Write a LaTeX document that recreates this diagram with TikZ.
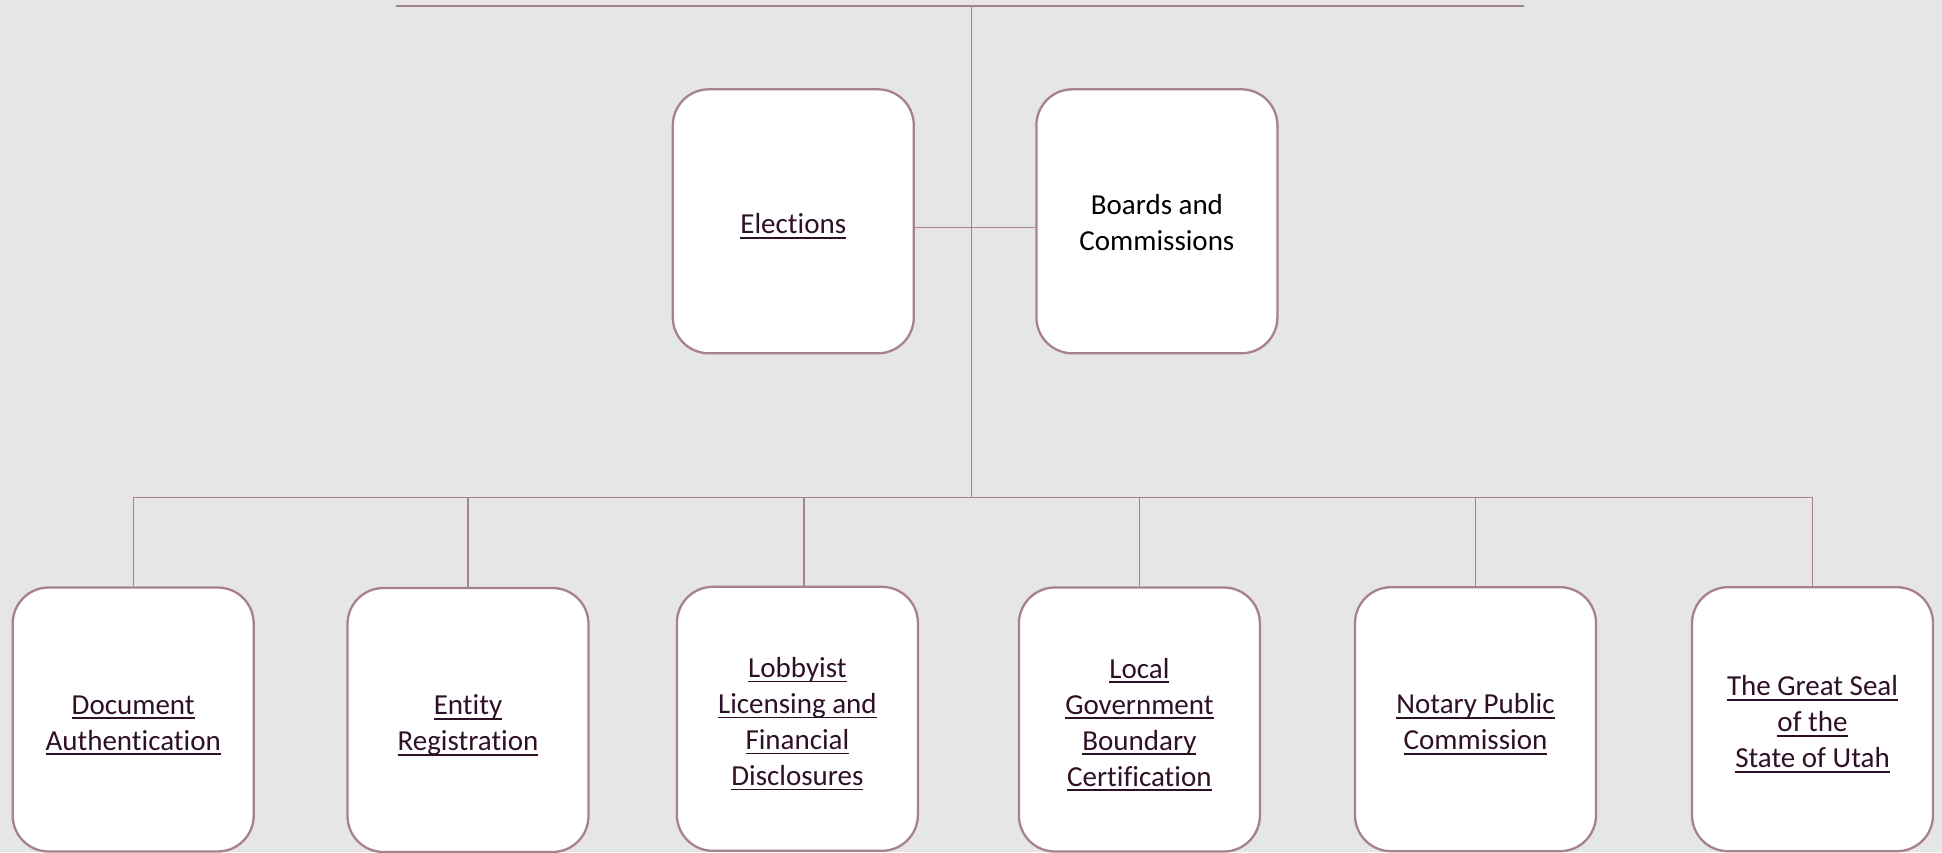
\documentclass[tikz,border=0pt]{standalone}
\usepackage{fontspec}
\setmainfont{Carlito}[Ligatures=NoCommon]
\definecolor{bg}{HTML}{E6E6E6}
\definecolor{edge}{HTML}{A6818F}
\definecolor{link}{HTML}{2F1127}
\newcommand\ulx[1]{\setbox0\hbox{#1}\rlap{\rule[-5pt]{\wd0}{1.8pt}}\box0}
\newcommand\topst{\rule{0pt}{30pt}}
\tikzset{
  card/.style={draw=edge, line width=2.3pt, fill=white, rounded corners=36pt,
    minimum width=241pt, minimum height=264pt, inner sep=0pt, align=center,
    font=\fontsize{29}{36}\selectfont, text=link},
  conn/.style={draw=edge, line width=1.4pt}
}
\begin{document}
\begin{tikzpicture}[x=1pt,y=-1pt]
\useasboundingbox (0,0) rectangle (1942,852);
\fill[bg] (0,0) rectangle (1942,852);
% top level
\coordinate (topL) at (396,5.7);
\coordinate (topR) at (1524,5.7);
\coordinate (topC) at (971.5,5.7);
\coordinate (busC) at (971.5,497.7);
\coordinate (mid) at (971.5,227.7);
\node[card] (el) at (793.3,221.3) {\topst\ulx{Elections}};
\node[card, text=black] (bo) at (1156.9,221.3) {\rule{0pt}{22pt}Boards and\\Commissions};
\node[card] (doc) at (133.2,719.5) {\topst\ulx{Document}\\\ulx{Authentication}};
\node[card] (ent) at (468,720) {\topst\ulx{Entity}\\\ulx{Registration}};
\node[card] (lob) at (797.4,718.8) {\topst\ulx{Lobbyist}\\\ulx{Licensing and}\\\ulx{Financial}\\\ulx{Disclosures}};
\node[card] (loc) at (1139.4,719.5) {\topst\ulx{Local}\\\ulx{Government}\\\ulx{Boundary}\\\ulx{Certification}};
\node[card] (not) at (1475.5,719.2) {\topst\ulx{Notary Public}\\\ulx{Commission}};
\node[card] (sea) at (1812.5,719.2) {\topst\ulx{The Great Seal}\\\ulx{of the}\\\ulx{State of Utah}};
% connectors
\draw[conn, line width=2pt] (topL) -- (topR);
\draw[conn] (topC) -- (busC);
\draw[conn] (el.east |- mid) -- (bo.west |- mid);
\draw[conn] (doc.north |- busC) -- (sea.north |- busC);
\draw[conn] (doc.north |- busC) -- (doc.north);
\draw[conn] (ent.north |- busC) -- (ent.north);
\coordinate (lobtop) at ([xshift=6.6pt]lob.north);
\draw[conn] (lobtop |- busC) -- (lobtop);
\draw[conn] (loc.north |- busC) -- (loc.north);
\draw[conn] (not.north |- busC) -- (not.north);
\draw[conn] (sea.north |- busC) -- (sea.north);
\end{tikzpicture}
\end{document}
